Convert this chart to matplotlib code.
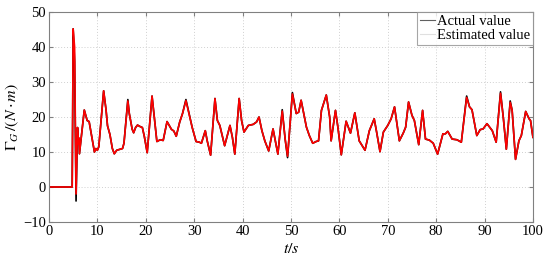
import matplotlib
matplotlib.use("Agg")
import matplotlib.pyplot as plt

# time (s) and torque values
t = [0, 4.8, 4.9, 5.0, 5.3, 5.6, 5.9, 6.1, 6.2, 6.3, 7.3, 7.9, 8.3, 9.4, 9.7,
     10.0, 10.3, 11.3, 11.8, 12.1, 12.6, 13.1, 13.5, 14.0, 14.7, 15.2, 15.5,
     16.3, 16.6, 17.2, 17.5, 17.9, 18.3, 18.8, 19.3, 19.7, 20.3, 21.3, 22.3,
     23.0, 23.6, 24.4, 25.3, 25.8, 26.3, 27.0, 27.6, 28.3, 29.1, 29.6, 30.4,
     31.1, 31.5, 32.3, 32.7, 33.4, 34.3, 34.8, 35.3, 36.3, 37.4, 37.9, 38.4,
     39.3, 39.8, 40.3, 41.2, 42.2, 42.9, 43.4, 44.0, 44.6, 45.4, 46.3, 47.3,
     48.2, 48.8, 49.3, 50.3, 51.1, 51.6, 52.1, 53.2, 53.8, 54.5, 55.2, 55.7,
     56.3, 57.3, 58.0, 58.3, 59.2, 59.7, 60.4, 61.4, 62.3, 63.2, 64.1, 65.3,
     66.2, 67.2, 67.7, 68.4, 69.1, 70.0, 70.7, 71.4, 72.4, 73.2, 73.7, 74.3,
     75.0, 75.5, 76.4, 77.2, 77.8, 78.6, 79.4, 80.3, 81.4, 81.9, 82.4, 83.3,
     84.3, 85.2, 86.3, 86.9, 87.4, 88.4, 89.1, 89.7, 90.5, 91.6, 92.4, 93.3,
     93.9, 94.5, 95.3, 95.7, 96.4, 97.1, 97.6, 98.5, 99.2, 99.5, 100]

actual = [0, 0, 20, 45.2, 36, -4, 17, 12.4, 14, 9.5, 22, 19, 18.7, 10, 11,
          10.5, 11.5, 27.5, 22, 17.5, 15, 11, 9.5, 10.5, 10.8, 11, 12.5,
          25, 21, 16.5, 15.5, 17, 17.7, 17.3, 17, 14.5, 9.8, 26, 13,
          13.5, 13.3, 18.7, 16.5, 16, 14.5, 18.5, 21, 25, 20, 17, 13,
          12.8, 12.5, 16.1, 13.2, 9.1, 25.3, 19, 17.6, 11.8, 17.6, 14.2, 9.4,
          25.3, 19, 15.7, 17.6, 17.9, 18.6, 20, 16.1, 13.2, 10.3, 16.6, 9.4,
          22.1, 13.7, 8.4, 27, 21, 21.4, 24.8, 17.1, 14.7, 12.5, 13, 13.2,
          21.9, 26.3, 20, 13.2, 21.9, 17.1, 9.2, 18.8, 15.4, 21.2, 13.2, 10.5,
          16.1, 19.5, 15.7, 10.1, 15.7, 17.6, 19.5, 22.9, 13.2, 15.4, 17.1, 24.3,
          20.5, 19, 12.1, 21.9, 13.7, 13.4, 12.5, 9.4, 15.2, 15.2, 15.9, 13.7,
          13.5, 12.8, 26, 22.9, 22.1, 14.7, 16.4, 16.6, 18.1, 16.1, 12.8, 27.2,
          19.5, 10.8, 24.6, 21.9, 7.9, 13.2, 14.7, 21.6, 19.5, 19, 14.2]

estimated = [0, 0, 20, 45.2, 40, -2, 17, 12.4, 14, 9.5, 22, 19, 18.7, 10, 11,
             10.5, 11.5, 27.5, 22, 17.5, 15, 11, 9.5, 10.5, 10.8, 11, 12.5,
             24.6, 21, 16.5, 15.5, 17, 17.7, 17.3, 17, 14.5, 9.8, 26, 13,
             13.5, 13.3, 18.7, 16.5, 16, 14.5, 18.5, 21, 24.7, 20, 17, 13,
             12.8, 12.5, 16.1, 13.2, 9.1, 25.3, 19, 17.6, 11.8, 17.6, 14.2, 9.4,
             25.3, 19, 15.7, 17.6, 17.9, 18.6, 20, 16.1, 13.2, 10.3, 16.6, 9.4,
             21.7, 13.7, 8.8, 26.6, 21, 21.4, 24.8, 17.1, 14.7, 12.5, 13, 13.2,
             21.9, 26.3, 20, 13.2, 21.9, 17.1, 9.2, 18.8, 15.4, 21.2, 13.2, 10.5,
             16.1, 19.5, 15.7, 10.1, 15.7, 17.6, 19.5, 22.9, 13.2, 15.4, 17.1, 24.3,
             20.5, 19, 12.1, 21.9, 13.7, 13.4, 12.5, 9.4, 15.2, 15.2, 15.9, 13.7,
             13.5, 12.8, 25.6, 22.9, 22.1, 14.7, 16.4, 16.6, 18.1, 16.1, 12.8, 26.8,
             19.5, 10.8, 24.2, 21.9, 7.9, 13.2, 14.7, 21.6, 19.5, 19, 14.2]

plt.rcParams['font.family'] = ['Liberation Serif', 'DejaVu Serif']
plt.rcParams['mathtext.fontset'] = 'stix'

fig = plt.figure(figsize=(5.5, 2.63), dpi=100)
ax = fig.add_axes([0.089, 0.156, 0.880, 0.798])

ax.plot(t, actual, color='black', lw=1.2, label='Actual value')
ax.plot(t, estimated, color='#ff0000', lw=1.2, label='Estimated value')

ax.set_xlim(0, 100)
ax.set_ylim(-10, 50)
ax.set_xticks(range(0, 101, 10))
ax.set_yticks(range(-10, 51, 10))
ax.grid(True, linestyle=(0, (1, 2)), color='#d0d0d0', lw=0.7)
ax.tick_params(direction='in', top=True, right=True, labelsize=10.5,
               length=3, color='#808080', pad=2)
for s in ax.spines.values():
    s.set_color('#808080')

ax.set_xlabel('$t/s$', fontsize=11.5, labelpad=2)
ax.set_ylabel(r'$\Gamma_G\,/(N\cdot m)$', fontsize=11.5, labelpad=2)

leg = ax.legend(loc='upper right', fontsize=10.5, frameon=True, fancybox=False,
                borderaxespad=0, handlelength=1.0, handletextpad=0.15,
                borderpad=0.2, labelspacing=0.05)
leg.get_frame().set_edgecolor('#909090')
leg.get_frame().set_linewidth(0.8)
leg.get_lines()[0].set_color('#606060')
leg.get_lines()[1].set_color('#e0e0e0')
for ln in leg.get_lines():
    ln.set_linewidth(0.8)

fig.savefig('out.png', dpi=100)
